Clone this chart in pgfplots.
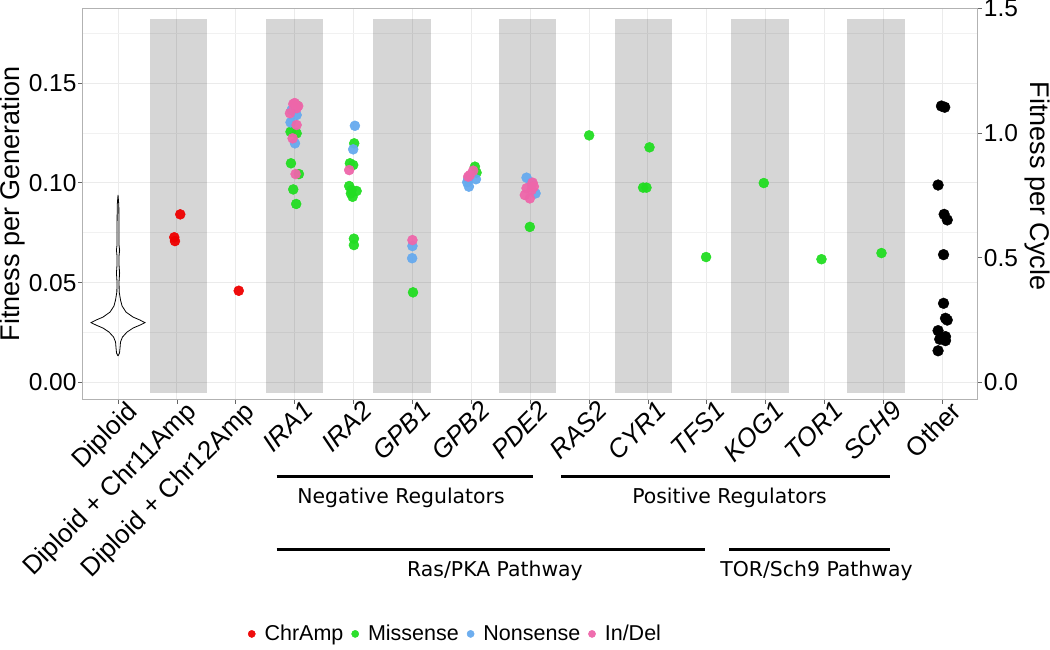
\documentclass[border=0pt]{standalone}
\usepackage{pgfplots}
\pgfplotsset{compat=1.18}
\usepackage{fontspec}
\setmainfont{Liberation Sans}
\newfontfamily\dejavu{DejaVu Sans}
\definecolor{cAmp}{HTML}{EE0000}
\definecolor{cMis}{HTML}{22DD22}
\definecolor{cNon}{HTML}{66AAEE}
\definecolor{cInd}{HTML}{EE66AA}
\definecolor{gridc}{HTML}{EBEBEB}
\begin{document}
\begin{tikzpicture}[x=1pt,y=1pt]
\useasboundingbox (0,0) rectangle (1050,649);
\begin{axis}[
  at={(82.7pt,249.7pt)}, anchor=south west,
  scale only axis, width=895pt, height=391pt,
  xmin=0.4, xmax=15.6, ymin=-0.00852, ymax=0.1875,
  xtick={1,...,15},
  xticklabels={Diploid, Diploid + Chr11Amp, Diploid + Chr12Amp, \textit{IRA1}, \textit{IRA2}, \textit{GPB1}, \textit{GPB2}, \textit{PDE2}, \textit{RAS2}, \textit{CYR1}, \textit{TFS1}, \textit{KOG1}, \textit{TOR1}, \textit{SCH9}, Other},
  ytick={0,0.05,0.10,0.15},
  minor ytick={0.025,0.075,0.125,0.175},
  scaled y ticks=false,
  /pgf/number format/assume math mode=true,
  yticklabel style={font=\fontsize{24.5}{24.5}\selectfont, text=black, inner sep=1.5pt,
    /pgf/number format/fixed, /pgf/number format/fixed zerofill, /pgf/number format/precision=2},
  xticklabel style={font=\fontsize{26}{26}\selectfont, text=black, rotate=45, anchor=north east, inner sep=1pt, xshift=9pt, yshift=-1pt},
  tick align=outside, major tick length=4.5pt, minor tick length=0pt,
  tick style={black!60, line width=0.8pt},
  ytick pos=left, xtick pos=bottom,
  axis line style={black!30, line width=0.9pt},
  xmajorgrids, ymajorgrids, yminorgrids,
  major grid style={gridc, line width=1pt},
  minor grid style={gridc!70, line width=0.8pt},
  ylabel={Fitness per Generation},
  ylabel style={font=\fontsize{27}{27}\selectfont, at={(axis description cs:-0.078,0.5)}, anchor=center, rotate=0},
  legend columns=4,
  legend style={at={(axis description cs:0.4165,-0.600)}, anchor=center, draw=none, fill=none,
    font=\fontsize{21.5}{21.5}\selectfont, inner sep=0pt,
    /tikz/every odd column/.append style={column sep=7pt},
    /tikz/every even column/.append style={column sep=6pt}},
  legend image code/.code={\fill[#1] (3pt,0pt) circle (3.6pt);},
  mark options={draw=none},
]
% shaded bands
\addplot[fill=black, fill opacity=0.16, draw=none, forget plot] coordinates {(1.542,-0.0052) (2.518,-0.0052) (2.518,0.1821) (1.542,0.1821)};
\addplot[fill=black, fill opacity=0.16, draw=none, forget plot] coordinates {(3.512,-0.0052) (4.488,-0.0052) (4.488,0.1821) (3.512,0.1821)};
\addplot[fill=black, fill opacity=0.16, draw=none, forget plot] coordinates {(5.332,-0.0052) (6.308,-0.0052) (6.308,0.1821) (5.332,0.1821)};
\addplot[fill=black, fill opacity=0.16, draw=none, forget plot] coordinates {(7.462,-0.0052) (8.438,-0.0052) (8.438,0.1821) (7.462,0.1821)};
\addplot[fill=black, fill opacity=0.16, draw=none, forget plot] coordinates {(9.432,-0.0052) (10.408,-0.0052) (10.408,0.1821) (9.432,0.1821)};
\addplot[fill=black, fill opacity=0.16, draw=none, forget plot] coordinates {(11.412,-0.0052) (12.388,-0.0052) (12.388,0.1821) (11.412,0.1821)};
\addplot[fill=black, fill opacity=0.16, draw=none, forget plot] coordinates {(13.382,-0.0052) (14.358,-0.0052) (14.358,0.1821) (13.382,0.1821)};
% violin
\addplot[black, line width=0.8pt, forget plot, mark=none] coordinates {
(1,0.0132) (1.025,0.0147) (1.034,0.0172) (1.042,0.0202) (1.076,0.0227) (1.153,0.0252) (1.255,0.0272) (1.374,0.0287) (1.458,0.0299) (1.374,0.0312) (1.255,0.0327) (1.136,0.0352) (1.068,0.0383) (1.042,0.0413) (1.020,0.0453) (1.017,0.0503) (1.027,0.0548) (1.017,0.0588) (1.017,0.0633) (1.027,0.0663) (1.017,0.0688) (1.017,0.0764) (1.0136,0.0889) (1,0.0939)
(0.9864,0.0889) (0.983,0.0764) (0.983,0.0688) (0.973,0.0663) (0.983,0.0633) (0.983,0.0588) (0.973,0.0548) (0.983,0.0503) (0.980,0.0453) (0.958,0.0413) (0.932,0.0383) (0.864,0.0352) (0.745,0.0327) (0.626,0.0312) (0.542,0.0299) (0.626,0.0287) (0.745,0.0272) (0.847,0.0252) (0.924,0.0227) (0.958,0.0202) (0.966,0.0172) (0.975,0.0147) (1,0.0132)};
% ChrAmp
\addplot[only marks, mark=*, mark size=5pt, cAmp, fill opacity=0.95] coordinates {
(2.057,0.0842) (1.955,0.0727) (1.967,0.0708) (3.05,0.0459)};
\addlegendentry{ChrAmp}
% Missense
\addplot[only marks, mark=*, mark size=5pt, cMis, fill opacity=0.95] coordinates {
(3.93,0.1256) (4.033,0.1248) (3.937,0.1098) (4.072,0.1044) (3.976,0.0967) (4.026,0.0894) (4.03,0.1390)
(5.011,0.1198) (4.938,0.1098) (4.994,0.1089) (4.926,0.0984) (4.967,0.0964) (5.052,0.0959) (4.955,0.0947) (4.984,0.0930) (5.006,0.0720) (5.006,0.0688)
(6.01,0.0451)
(7.061,0.1081) (7.089,0.1051)
(7.994,0.0779)
(9.001,0.1238)
(10.026,0.1178) (9.918,0.0976) (9.975,0.0976)
(10.987,0.0628)
(11.967,0.0999)
(12.947,0.0617)
(13.966,0.0648)};
\addlegendentry{Missense}
% Nonsense
\addplot[only marks, mark=*, mark size=5pt, cNon, fill opacity=0.95] coordinates {
(3.948,0.1365) (4.033,0.134) (3.93,0.1303) (4.005,0.1198)
(5.023,0.1286) (4.994,0.1168)
(6.0,0.0683) (5.995,0.0622)
(7.078,0.1018) (6.947,0.1019) (6.93,0.1003) (6.959,0.0981)
(7.938,0.1026) (8.023,0.0998) (8.091,0.0947)};
\addlegendentry{Nonsense}
% In/Del
\addplot[only marks, mark=*, mark size=5pt, cInd, fill opacity=0.95] coordinates {
(3.976,0.1395) (4.033,0.1374) (3.92,0.1349) (4.033,0.129) (3.965,0.1223) (4.016,0.1044) (4.06,0.1385) (4.0,0.1400)
(4.926,0.1064)
(6.0,0.0713)
(7.032,0.1061) (6.976,0.1039) (6.947,0.1031)
(8.04,0.1001) (7.938,0.0973) (8.023,0.0964) (7.909,0.0939) (7.994,0.0922) (8.062,0.0981)};
\addlegendentry{In/Del}
% Other
\addplot[only marks, mark=*, mark size=5.4pt, black, forget plot] coordinates {
(14.984,0.1385) (15.04,0.1379) (14.927,0.0989) (15.03,0.0842) (15.083,0.0814) (15.02,0.0640) (15.02,0.0396) (15.053,0.0321) (15.083,0.0312) (14.927,0.0259) (14.955,0.0216) (15.053,0.0229) (15.053,0.0209) (14.927,0.0158)};
\end{axis}
\begin{axis}[
  at={(82.7pt,249.7pt)}, anchor=south west,
  scale only axis, width=895pt, height=391pt,
  xmin=0.4, xmax=15.6, ymin=-0.0682, ymax=1.5,
  axis x line=none, axis y line*=right,
  ytick={0,0.5,1,1.5},
  /pgf/number format/assume math mode=true,
  yticklabel style={font=\fontsize{24.5}{24.5}\selectfont, text=black, inner sep=1.5pt,
    /pgf/number format/fixed, /pgf/number format/fixed zerofill, /pgf/number format/precision=1},
  tick align=outside, major tick length=4.5pt,
  tick style={black!60, line width=0.8pt},
  axis line style={black!30, line width=0.9pt},
  ylabel={Fitness per Cycle},
  ylabel style={font=\fontsize{27}{27}\selectfont, at={(axis description cs:1.0663,0.5455)}, anchor=center, rotate=180},
]
\addplot[draw=none, forget plot] coordinates {(1,0)};
\end{axis}
\draw[line width=3pt] (276.7,173) -- (533.3,173);
\draw[line width=3pt] (561,173) -- (890,173);
\draw[line width=3pt] (276.7,99.7) -- (705,99.7);
\draw[line width=3pt] (729,99.7) -- (890,99.7);
\node[anchor=base, font=\dejavu\fontsize{20.4}{20.4}\selectfont, inner sep=0pt] at (401,145.7) {Negative Regulators};
\node[anchor=base, font=\dejavu\fontsize{20.4}{20.4}\selectfont, inner sep=0pt] at (729.5,145.7) {Positive Regulators};
\node[anchor=base, font=\dejavu\fontsize{20.4}{20.4}\selectfont, inner sep=0pt] at (495,73) {Ras/PKA Pathway};
\node[anchor=base, font=\dejavu\fontsize{20.4}{20.4}\selectfont, inner sep=0pt] at (816.5,73) {TOR/Sch9 Pathway};
\end{tikzpicture}
\end{document}
